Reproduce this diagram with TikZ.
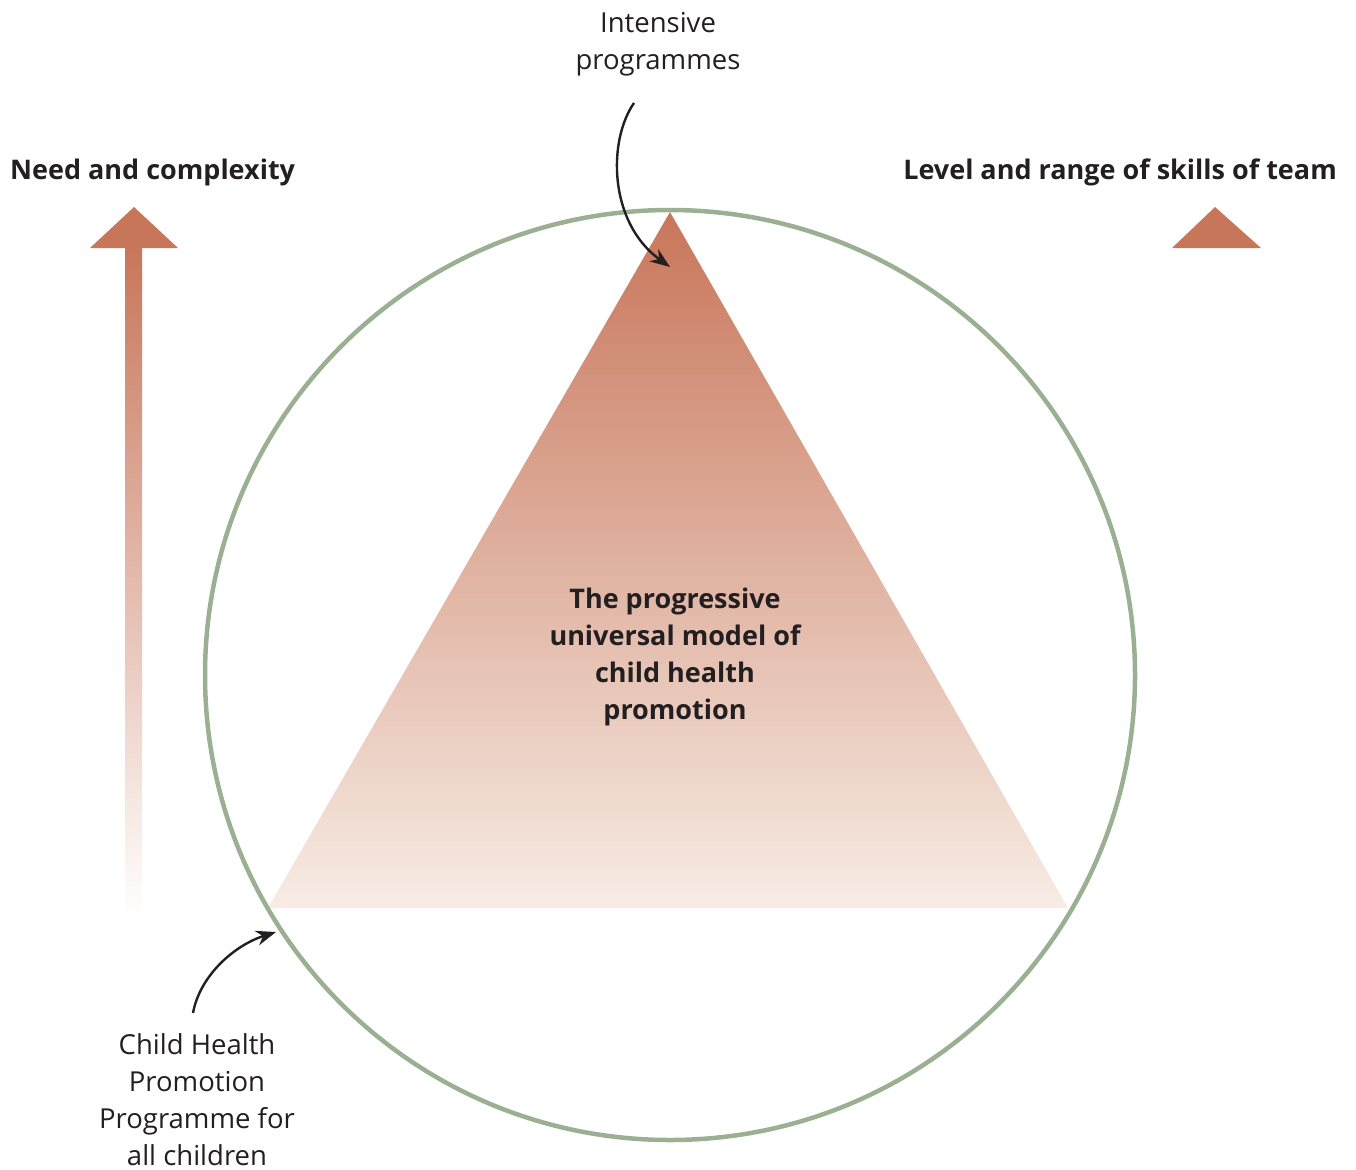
\documentclass[tikz,border=0pt]{standalone}
\usepackage{fontspec}
\setmainfont{Open Sans}
\usetikzlibrary{arrows.meta}
\definecolor{terra}{HTML}{C8765A}
\definecolor{pale}{HTML}{F7ECE5}
\definecolor{sage}{HTML}{9BB093}
\definecolor{ink}{HTML}{231F20}
\tikzset{
  lbl/.style={text=ink, align=center, font=\fontsize{27.5}{37}\selectfont, inner sep=0pt},
  blbl/.style={lbl, font=\fontsize{27}{37}\selectfont\bfseries},
  pointer/.style={draw=ink, line width=2.4pt, -{Stealth[length=20pt,width=15pt]}},
}
\begin{document}
\begin{tikzpicture}[x=1pt,y=-1pt]
\useasboundingbox (0,0) rectangle (1356,1169);
% pyramid
\shade[top color=terra, bottom color=pale] (670,212) -- (1068,908) -- (268,908) -- cycle;
\coordinate (apex) at (670,267);
% circle
\node[draw=sage, line width=4.5pt, circle, minimum size=930pt, inner sep=0pt] (ring) at (670,675) {};
% left arrow
\shade[top color=terra, bottom color=white] (125,246) rectangle (142,917);
\fill[terra] (90,248) -- (134,207) -- (178,248) -- cycle;
% right triangle
\fill[terra] (1172,248) -- (1215,207) -- (1261,248) -- cycle;
% labels
\node[blbl, anchor=base west] (need) at (10,179) {Need and complexity};
\node[blbl, anchor=base east] (level) at (1337,179) {Level and range of skills of team};
\node[lbl, anchor=base] (intensive) at (658,70) {Intensive\\programmes};
\node[blbl, anchor=base] (model) at (675,719) {The progressive\\universal model of\\child health\\promotion};
\node[lbl, anchor=base] (chpp) at (197,1165) {Child Health\\Promotion\\Programme for\\all children};
% pointers
\coordinate (ipstart) at (634,103);
\coordinate (cstart) at (193,1013);
\coordinate (ctip) at (276,932);
\draw[pointer] (ipstart) .. controls (608,140) and (608,222) .. (apex);
\draw[pointer] (cstart) .. controls (200,975) and (235,945) .. (ctip);
\end{tikzpicture}
\end{document}
